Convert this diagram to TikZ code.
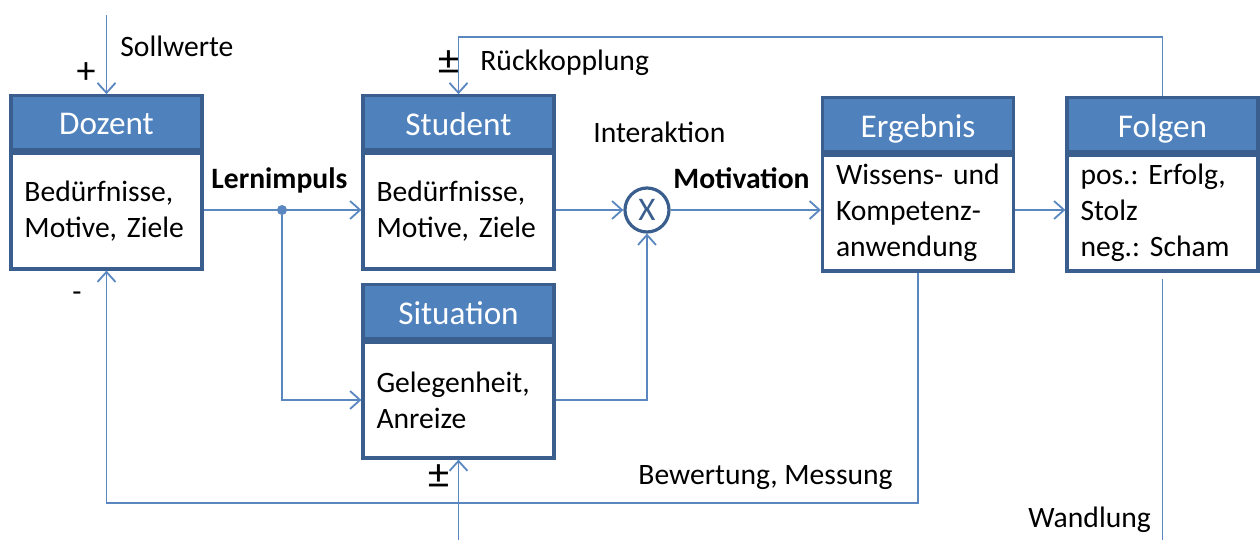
\documentclass[tikz,border=0pt]{standalone}
\usepackage{fontspec}
\setmainfont{Carlito}
\frenchspacing
\usetikzlibrary{arrows.meta,calc}
\definecolor{hdr}{HTML}{4F81BD}
\definecolor{bdr}{HTML}{3A5F8F}
\definecolor{lnk}{HTML}{5A87C0}
\begin{document}
\begin{tikzpicture}[x=0.5pt,y=-0.5pt,
  body/.style={draw=bdr, line width=1.6pt, fill=white, minimum width=95.5pt, minimum height=58pt,
    text width=82pt, inner xsep=6.75pt, inner ysep=0pt, align=left, font=\fontsize{14.8}{18}\selectfont},
  head/.style={draw=bdr, line width=1.6pt, fill=hdr, minimum width=95.5pt, minimum height=27pt,
    inner sep=0pt, text=white, text depth=0pt, font=\fontsize{16.6}{20}\selectfont, anchor=south},
  htext/.style={inner sep=0pt, text=white, font=\fontsize{16.6}{20}\selectfont, anchor=base},
  conn/.style={draw=lnk, line width=0.9pt},
  arr/.style={conn, -{Straight Barb[length=5pt,width=9pt]}},
  lbl/.style={font=\fontsize{14.8}{18}\selectfont, inner sep=0pt, anchor=base west},
  sgn/.style={font=\fontsize{19}{20}\selectfont, inner sep=0pt},
  pm/.style={font=\fontsize{21}{22}\selectfont, inner sep=0pt},
  dotnode/.style={circle, fill=lnk, inner sep=0pt, minimum size=5pt}
]
\useasboundingbox (0,0) rectangle (1260,540);

% boxes
\node[body] (doz) at (106.5,211) {Bedürfnisse,\\Motive, Ziele};
\node[head] (dozh) at (doz.north) {\raisebox{-1.5pt}{Dozent}};
\node[body] (stu) at (458.5,211) {Bedürfnisse,\\Motive, Ziele};
\node[head] (stuh) at (stu.north) {\raisebox{-1.5pt}{Student}};
\node[body] (sit) at (458.5,400) {Gelegenheit,\\Anreize};
\node[head] (sith) at (sit.north) {\raisebox{-1.5pt}{Situation}};
\node[body] (erg) at (918,213) {Wissens- und\\Kompetenz-\\anwendung};
\node[head] (ergh) at (erg.north) {\raisebox{-1.5pt}{Ergebnis}};
\node[body] (fol) at (1162.5,213) {pos.: Erfolg,\\Stolz\\neg.: Scham};
\node[head] (folh) at (fol.north) {\raisebox{-1.5pt}{Folgen}};

% multiplier
\node[circle, draw=bdr, line width=1.6pt, fill=white, minimum size=22pt, inner sep=0pt,
  text=bdr, font=\fontsize{16.5}{16.5}\selectfont] (mx) at (647,210) {X};
\node[dotnode] (lp) at (282,210) {};

% free ends
\coordinate (s0) at (106.5,15);
\coordinate (top) at (458.5,37);
\coordinate (botl) at (106.5,503);
\coordinate (b0) at (458.5,540);
\coordinate (w0) at (1162.5,540);

% connectors
\draw[arr] (doz.east |- lp) -- (stu.west |- lp);
\draw[arr] (s0) -- (dozh.north);
\draw[arr] (lp) |- (sit.west);
\draw[arr] (stu.east |- mx) -- (mx.west);
\draw[arr] (sit.east) -| (mx.south);
\draw[arr] (mx.east) -- (erg.west |- mx);
\draw[arr] (erg.east |- mx) -- (fol.west |- mx);
\draw[arr] (folh.north) |- (top) -- (stuh.north);
\draw[arr] (erg.south) |- (botl) -- (doz.south);
\draw[arr] (b0) -- (sit.south);
\draw[conn] ([yshift=-3pt]fol.south) -- (w0);

% labels
\node[lbl] (tsoll) at (120,57) {Sollwerte};
\node[sgn] (tplus) at (86,73) {+};
\node[sgn, font=\fontsize{15}{18}\selectfont] (tminus) at (77,297) {-};
\node[lbl, font=\fontsize{14.8}{18}\selectfont\bfseries] (tlern) at (211,189) {Lernimpuls};
\node[pm] (tpm1) at (449,63) {±};
\node[lbl] (truck) at (480,71) {Rückkopplung};
\node[lbl] (tint) at (593,143) {Interaktion};
\node[lbl, font=\fontsize{14.8}{18}\selectfont\bfseries] (tmot) at (673,189) {Motivation};
\node[pm] (tpm2) at (439,477) {±};
\node[lbl] (tbew) at (638,484) {Bewertung, Messung};
\node[lbl] (twand) at (1028,527) {Wandlung};
\end{tikzpicture}
\end{document}
